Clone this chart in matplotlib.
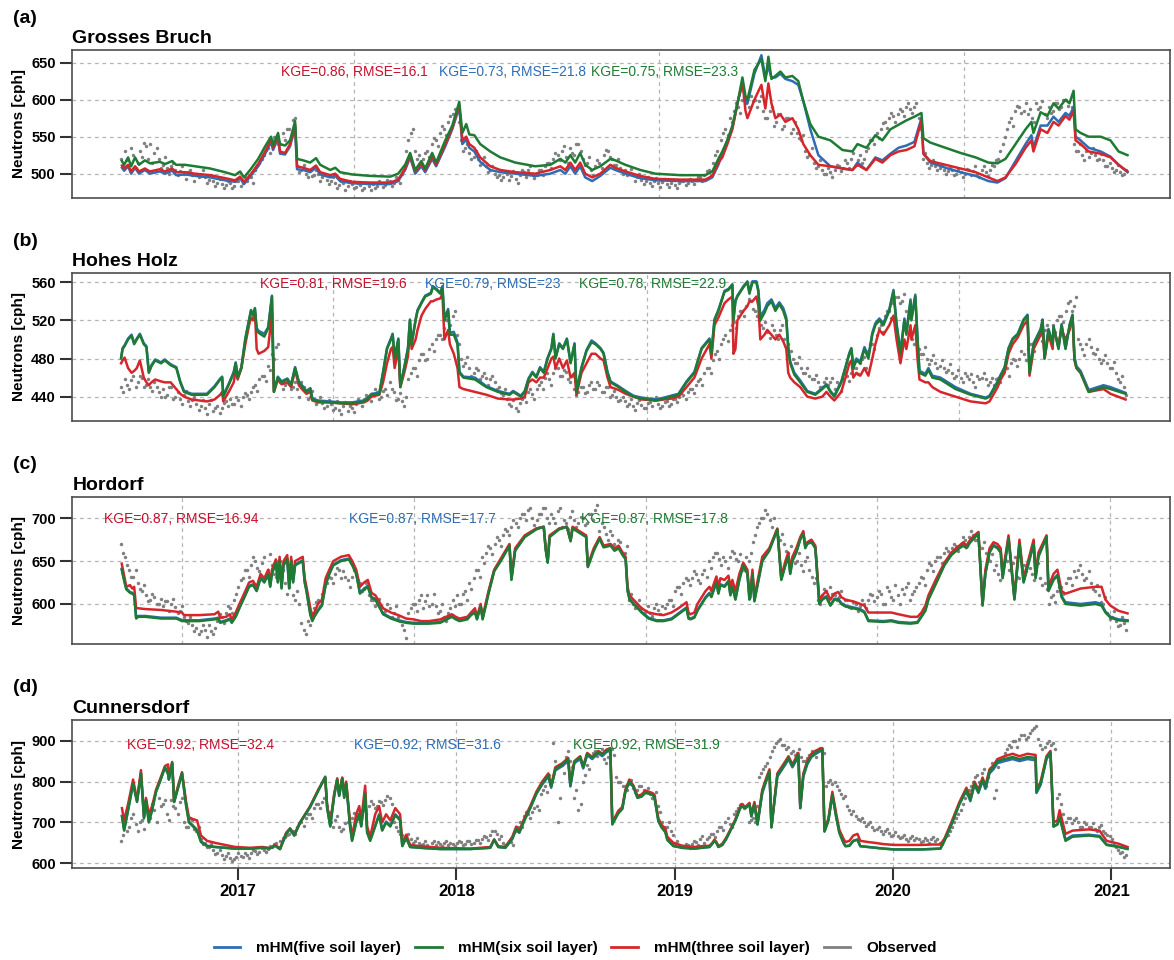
import matplotlib
matplotlib.use('Agg')
import matplotlib.pyplot as plt
from matplotlib.lines import Line2D
import numpy as np

plt.rcParams.update({
    'font.family': ['Liberation Sans', 'DejaVu Sans'],
    'font.size': 10,
    'axes.linewidth': 1.2,
    'axes.edgecolor': '#4d4d4d',
})

COLORS = {
    'five': '#2E6DB4',
    'six': '#1E7B34',
    'three': '#D7262B',
    'obs': '#808080',
}
TEXT_COLORS = {'three': '#C8102E', 'five': '#2E6DB4', 'six': '#1E7B34'}
SERIES_LABELS = ['mHM(five soil layer)', 'mHM(six soil layer)',
                 'mHM(three soil layer)', 'Observed']

# observed: two samples per week (start / middle of week), first one mid June 2016
OBS_START = 2016.463
OBS_STEP = 1 / 52

# model rows: (decimal year, five layer, six layer, three layer)
GB_MODEL = [
    (2016.468, 508, 517, 511), (2016.478, 504, 512, 507), (2016.496, 510, 522, 512),
    (2016.510, 500, 510, 503), (2016.528, 508, 522, 510), (2016.546, 500, 512, 503),
    (2016.573, 505, 518, 507), (2016.596, 500, 514, 503), (2016.642, 503, 516, 506),
    (2016.665, 500, 513, 503), (2016.698, 504, 517, 507), (2016.716, 498, 512, 502),
    (2016.757, 499, 512, 502), (2016.803, 497, 510, 500), (2016.872, 495, 507, 498),
    (2016.940, 491, 502, 494), (2016.986, 489, 498, 491), (2017.009, 494, 503, 496),
    (2017.027, 486, 495, 489), (2017.055, 496, 505, 498), (2017.092, 510, 520, 513),
    (2017.124, 527, 537, 530), (2017.151, 543, 550, 546), (2017.160, 532, 538, 535),
    (2017.183, 548, 555, 550), (2017.192, 527, 540, 530), (2017.215, 526, 538, 528),
    (2017.238, 537, 545, 540), (2017.261, 563, 571, 566), (2017.270, 506, 520, 510),
    (2017.298, 505, 518, 508), (2017.330, 502, 515, 505), (2017.357, 508, 521, 511),
    (2017.376, 499, 512, 502), (2017.422, 495, 505, 498), (2017.445, 497, 508, 500),
    (2017.467, 490, 502, 493), (2017.522, 487, 499, 489), (2017.605, 486, 497, 488),
    (2017.697, 486, 496, 488), (2017.733, 490, 500, 492), (2017.765, 505, 512, 507),
    (2017.788, 522, 528, 525), (2017.811, 500, 505, 503), (2017.839, 510, 517, 513),
    (2017.857, 502, 507, 505), (2017.889, 520, 528, 523), (2017.907, 510, 515, 512),
    (2017.949, 537, 545, 540), (2017.981, 560, 565, 562), (2018.013, 590, 597, 593),
    (2018.027, 540, 555, 545), (2018.045, 546, 567, 550), (2018.059, 535, 553, 540),
    (2018.082, 530, 552, 535), (2018.109, 516, 540, 522), (2018.155, 505, 530, 510),
    (2018.201, 502, 522, 505), (2018.270, 500, 515, 502), (2018.361, 497, 510, 500),
    (2018.430, 500, 512, 505), (2018.476, 505, 520, 510), (2018.499, 500, 515, 505),
    (2018.522, 510, 525, 515), (2018.544, 500, 515, 505), (2018.567, 510, 528, 515),
    (2018.590, 495, 512, 500), (2018.622, 490, 505, 495), (2018.659, 497, 510, 500),
    (2018.705, 508, 520, 512), (2018.728, 505, 518, 508), (2018.774, 500, 512, 503),
    (2018.842, 494, 505, 497), (2018.911, 491, 500, 493), (2019.026, 490, 498, 492),
    (2019.140, 490, 498, 492), (2019.172, 495, 503, 497), (2019.200, 512, 520, 515),
    (2019.218, 528, 530, 522), (2019.241, 545, 545, 540), (2019.264, 562, 565, 560),
    (2019.291, 600, 600, 600), (2019.310, 620, 630, 625), (2019.324, 600, 605, 585),
    (2019.333, 595, 600, 575), (2019.365, 635, 640, 600), (2019.397, 660, 655, 620),
    (2019.415, 630, 625, 588), (2019.429, 645, 658, 622), (2019.443, 630, 628, 595),
    (2019.461, 630, 632, 575), (2019.484, 635, 638, 580), (2019.507, 628, 630, 570),
    (2019.539, 625, 632, 575), (2019.566, 620, 625, 560), (2019.589, 598, 598, 540),
    (2019.621, 560, 567, 525), (2019.658, 525, 550, 512), (2019.713, 510, 545, 510),
    (2019.768, 507, 532, 507), (2019.814, 505, 530, 505), (2019.837, 515, 540, 512),
    (2019.878, 505, 535, 505), (2019.919, 522, 552, 520), (2019.951, 518, 545, 515),
    (2019.988, 527, 560, 525), (2020.025, 535, 566, 530), (2020.061, 538, 572, 532),
    (2020.098, 543, 577, 537), (2020.130, 575, 582, 572), (2020.139, 527, 548, 527),
    (2020.171, 515, 542, 517), (2020.240, 508, 535, 512), (2020.309, 502, 528, 507),
    (2020.378, 497, 522, 502), (2020.437, 490, 515, 495), (2020.478, 488, 514, 490),
    (2020.515, 494, 520, 495), (2020.561, 517, 540, 513), (2020.607, 540, 560, 535),
    (2020.634, 552, 570, 545), (2020.643, 535, 555, 530), (2020.676, 565, 583, 560),
    (2020.707, 565, 578, 555), (2020.735, 577, 595, 570), (2020.758, 570, 588, 565),
    (2020.790, 582, 600, 578), (2020.808, 578, 595, 573), (2020.827, 590, 612, 585),
    (2020.836, 550, 560, 545), (2020.859, 545, 555, 540), (2020.896, 535, 550, 530),
    (2020.951, 530, 550, 527), (2020.996, 523, 545, 522), (2021.033, 512, 530, 512),
    (2021.074, 502, 525, 503),
]
GB_OBS = [
    520, 530, 512, 525, 515, 522, 538, 540, 528, 520,
    512, 508, 510, 505, 503, 500, 502, 498, 500, 497,
    495, 492, 490, 488, 486, 485, 487, 484, 490, 488,
    490, 495, 505, 515, 525, 535, 545, 550, 540, 545,
    560, 572, 510, 505, 500, 505, 498, 500, 495, 492,
    490, 488, 485, 487, 484, 486, 482, 485, 480, 484,
    486, 483, 488, 485, 490, 488, 492, 500, 530, 555,
    530, 525, 520, 530, 540, 545, 555, 560, 570, 580,
    585, 545, 535, 528, 522, 520, 515, 510, 505, 500,
    498, 495, 500, 497, 493, 498, 502, 505, 500, 498,
    505, 510, 515, 520, 525, 530, 522, 535, 525, 540,
    520, 515, 505, 510, 515, 525, 530, 520, 512, 508,
    505, 500, 498, 495, 492, 490, 488, 490, 487, 489,
    486, 488, 485, 487, 490, 488, 490, 492, 495, 498,
    505, 515, 530, 545, 560, 575, 585, 590, 600, 595,
    605, 600, 598, 585, 575, 590, 570, 580, 565, 575,
    560, 555, 545, 530, 525, 515, 510, 505, 500, 502,
    505, 510, 508, 515, 520, 512, 525, 520, 535, 545,
    555, 560, 570, 575, 578, 580, 585, 590, 588, 590,
    575, 520, 515, 512, 510, 508, 505, 503, 505, 500,
    502, 500, 505, 503, 500, 505, 502, 505, 510, 520,
    540, 560, 575, 585, 590, 585, 580, 575, 595, 590,
    580, 590, 585, 595, 590, 600, 580, 540, 530, 525,
    530, 528, 525, 520, 518, 510, 508, 505, 502, 500,
]
GB_OBS_MID = [
    510, 518, 535, 508, 530, 542, 520, 515, 535, 508,
    522, 500, 515, 498, 510, 493, 505, 490, 495, 505,
    488, 498, 484, 493, 480, 490, 481, 490, 484, 495,
    498, 488, 512, 520, 532, 528, 550, 540, 555, 560,
    548, 575, 502, 512, 495, 497, 505, 490, 500, 486,
    495, 480, 490, 478, 490, 480, 488, 478, 488, 478,
    480, 490, 482, 492, 484, 495, 488, 510, 545, 560,
    520, 515, 528, 522, 548, 538, 565, 552, 578, 588,
    570, 530, 540, 520, 530, 512, 522, 502, 510, 495,
    492, 502, 492, 503, 488, 505, 495, 510, 494, 505,
    498, 515, 508, 528, 518, 538, 515, 528, 540, 530,
    512, 522, 498, 518, 508, 532, 522, 512, 520, 500,
    498, 507, 490, 500, 486, 495, 484, 494, 482, 493,
    482, 492, 480, 490, 485, 493, 486, 496, 490, 503,
    498, 525, 522, 555, 552, 570, 595, 582, 605, 590,
    598, 590, 605, 575, 585, 565, 580, 560, 575, 555,
    570, 548, 552, 522, 535, 508, 518, 500, 508, 495,
    512, 503, 518, 508, 528, 518, 515, 530, 545, 540,
    548, 568, 562, 582, 570, 588, 578, 595, 582, 596,
    560, 528, 508, 518, 505, 512, 500, 508, 498, 507,
    496, 507, 498, 510, 495, 510, 497, 512, 518, 530,
    550, 570, 565, 592, 582, 595, 588, 570, 588, 598,
    575, 582, 595, 588, 600, 592, 590, 530, 540, 518,
    522, 535, 518, 527, 510, 515, 502, 512, 498, 505,
]

HH_MODEL = [
    (2016.464, 481, 480, 475), (2016.471, 491, 490, 478), (2016.480, 494, 493, 481),
    (2016.496, 501, 500, 470), (2016.512, 505, 504, 465), (2016.524, 496, 495, 467),
    (2016.536, 501, 500, 470), (2016.550, 506, 505, 478), (2016.568, 496, 495, 460),
    (2016.580, 493, 492, 455), (2016.591, 466, 465, 452), (2016.603, 473, 472, 455),
    (2016.620, 479, 478, 458), (2016.647, 476, 475, 456), (2016.664, 479, 478, 455),
    (2016.691, 474, 473, 455), (2016.717, 471, 470, 448), (2016.735, 456, 455, 443),
    (2016.752, 446, 445, 440), (2016.787, 443, 442, 437), (2016.857, 443, 442, 435),
    (2016.892, 451, 450, 437), (2016.918, 459, 458, 442), (2016.927, 461, 460, 445),
    (2016.932, 441, 440, 435), (2016.962, 456, 455, 447), (2016.980, 466, 465, 455),
    (2016.989, 476, 475, 468), (2016.998, 461, 460, 458), (2017.015, 471, 470, 470),
    (2017.033, 501, 500, 495), (2017.050, 521, 520, 515), (2017.059, 531, 530, 523),
    (2017.068, 526, 525, 520), (2017.077, 533, 532, 528), (2017.085, 512, 510, 490),
    (2017.094, 509, 507, 485), (2017.120, 506, 503, 488), (2017.138, 513, 512, 492),
    (2017.155, 546, 545, 528), (2017.164, 446, 445, 445), (2017.182, 461, 460, 458),
    (2017.199, 456, 455, 453), (2017.225, 459, 458, 455), (2017.243, 453, 452, 450),
    (2017.261, 471, 470, 468), (2017.278, 456, 455, 452), (2017.296, 451, 450, 447),
    (2017.313, 446, 445, 443), (2017.331, 449, 448, 445), (2017.340, 438, 437, 436),
    (2017.366, 436, 435, 434), (2017.418, 435, 434, 434), (2017.471, 434, 433, 433),
    (2017.523, 434, 433, 432), (2017.577, 436, 435, 434), (2017.594, 439, 438, 436),
    (2017.611, 443, 442, 440), (2017.647, 444, 443, 442), (2017.664, 466, 465, 455),
    (2017.682, 491, 490, 475), (2017.700, 501, 500, 490), (2017.708, 506, 505, 492),
    (2017.717, 481, 480, 470), (2017.734, 501, 500, 490), (2017.743, 451, 450, 450),
    (2017.761, 471, 470, 465), (2017.778, 491, 490, 482), (2017.787, 521, 520, 510),
    (2017.795, 496, 495, 490), (2017.813, 521, 520, 500), (2017.822, 531, 530, 510),
    (2017.840, 539, 538, 525), (2017.857, 546, 545, 532), (2017.883, 549, 548, 540),
    (2017.892, 556, 555, 540), (2017.909, 553, 552, 542), (2017.926, 549, 548, 543),
    (2017.936, 556, 555, 548), (2017.945, 522, 520, 500), (2017.962, 532, 530, 510),
    (2017.970, 507, 505, 495), (2017.988, 508, 505, 485), (2018.005, 497, 495, 470),
    (2018.014, 466, 465, 450), (2018.032, 461, 460, 448), (2018.085, 460, 458, 445),
    (2018.137, 451, 450, 442), (2018.190, 446, 445, 438), (2018.243, 443, 442, 437),
    (2018.260, 446, 445, 437), (2018.295, 441, 440, 438), (2018.313, 446, 445, 440),
    (2018.330, 459, 458, 455), (2018.348, 466, 465, 458), (2018.366, 461, 460, 455),
    (2018.383, 471, 470, 460), (2018.400, 466, 465, 460), (2018.418, 481, 480, 470),
    (2018.435, 491, 490, 480), (2018.444, 506, 505, 482), (2018.454, 481, 480, 470),
    (2018.471, 496, 495, 480), (2018.488, 491, 490, 470), (2018.506, 501, 500, 478),
    (2018.523, 476, 475, 460), (2018.541, 496, 495, 465), (2018.550, 446, 445, 442),
    (2018.573, 471, 470, 465), (2018.596, 489, 488, 475), (2018.619, 499, 497, 485),
    (2018.637, 496, 495, 485), (2018.660, 491, 490, 480), (2018.674, 486, 485, 478),
    (2018.692, 466, 465, 460), (2018.706, 456, 455, 450), (2018.743, 451, 450, 447),
    (2018.775, 446, 445, 443), (2018.811, 441, 440, 440), (2018.848, 439, 438, 437),
    (2018.917, 437, 436, 436), (2018.985, 441, 440, 438), (2019.017, 443, 442, 440),
    (2019.054, 456, 455, 450), (2019.090, 466, 465, 460), (2019.123, 491, 490, 480),
    (2019.159, 501, 500, 495), (2019.168, 486, 485, 480), (2019.182, 521, 520, 515),
    (2019.200, 531, 530, 523), (2019.228, 551, 550, 538), (2019.246, 553, 552, 542),
    (2019.264, 558, 557, 545), (2019.269, 522, 520, 485), (2019.278, 541, 540, 490),
    (2019.287, 546, 545, 520), (2019.315, 556, 555, 530), (2019.333, 561, 560, 535),
    (2019.342, 550, 548, 540), (2019.356, 561, 560, 540), (2019.374, 561, 560, 545),
    (2019.383, 552, 550, 535), (2019.392, 524, 520, 500), (2019.411, 531, 528, 505),
    (2019.424, 538, 535, 510), (2019.443, 542, 540, 505), (2019.461, 533, 530, 500),
    (2019.479, 539, 537, 505), (2019.497, 533, 530, 498), (2019.511, 523, 520, 490),
    (2019.520, 492, 490, 465), (2019.529, 477, 475, 460), (2019.548, 465, 463, 455),
    (2019.575, 457, 455, 450), (2019.607, 446, 445, 440), (2019.644, 443, 442, 438),
    (2019.676, 449, 448, 440), (2019.695, 453, 452, 445), (2019.713, 446, 445, 440),
    (2019.731, 441, 440, 436), (2019.763, 456, 455, 445), (2019.782, 471, 470, 460),
    (2019.800, 486, 485, 475), (2019.809, 491, 490, 478), (2019.818, 472, 470, 460),
    (2019.832, 480, 478, 465), (2019.850, 477, 475, 462), (2019.869, 492, 490, 470),
    (2019.887, 482, 480, 462), (2019.905, 507, 505, 480), (2019.919, 517, 515, 495),
    (2019.937, 522, 520, 510), (2019.956, 517, 515, 505), (2019.983, 532, 530, 515),
    (2020.002, 552, 550, 525), (2020.016, 517, 515, 500), (2020.034, 487, 485, 475),
    (2020.052, 522, 520, 500), (2020.061, 507, 505, 490), (2020.080, 542, 540, 515),
    (2020.084, 522, 520, 500), (2020.102, 547, 545, 515), (2020.112, 502, 500, 480),
    (2020.121, 467, 465, 458), (2020.148, 464, 462, 455), (2020.162, 470, 468, 455),
    (2020.180, 462, 460, 450), (2020.217, 460, 458, 445), (2020.286, 450, 448, 440),
    (2020.355, 443, 442, 435), (2020.424, 439, 438, 433), (2020.442, 441, 440, 435),
    (2020.479, 456, 455, 450), (2020.493, 463, 462, 458), (2020.511, 471, 470, 465),
    (2020.529, 491, 490, 485), (2020.548, 501, 500, 495), (2020.571, 506, 505, 502),
    (2020.598, 521, 520, 515), (2020.616, 526, 525, 520), (2020.625, 466, 465, 462),
    (2020.644, 496, 495, 490), (2020.676, 511, 510, 505), (2020.685, 521, 520, 515),
    (2020.694, 481, 480, 480), (2020.712, 511, 510, 505), (2020.731, 496, 495, 490),
    (2020.735, 514, 513, 510), (2020.758, 491, 490, 495), (2020.772, 516, 515, 510),
    (2020.790, 491, 490, 500), (2020.809, 516, 515, 510), (2020.822, 526, 525, 525),
    (2020.831, 482, 480, 478), (2020.840, 472, 470, 470), (2020.859, 467, 465, 465),
    (2020.896, 447, 445, 445), (2020.964, 452, 450, 448), (2020.996, 450, 448, 443),
    (2021.065, 444, 443, 437),
]
HH_OBS = [
    450, 458, 448, 462, 455, 460, 452, 450, 455, 445,
    448, 442, 450, 440, 438, 442, 435, 437, 432, 430,
    428, 432, 425, 430, 428, 435, 438, 432, 436, 440,
    442, 445, 452, 458, 462, 472, 485, 492, 455, 452,
    455, 450, 448, 455, 445, 440, 438, 435, 433, 430,
    432, 428, 426, 430, 425, 428, 432, 435, 438, 440,
    442, 445, 440, 448, 455, 445, 438, 435, 440, 465,
    470, 478, 485, 480, 495, 500, 505, 512, 520, 525,
    505, 480, 475, 470, 465, 468, 462, 460, 458, 455,
    450, 442, 438, 430, 428, 433, 440, 445, 443, 448,
    455, 460, 458, 465, 470, 462, 466, 455, 448, 445,
    450, 445, 455, 448, 452, 445, 450, 442, 440, 437,
    435, 432, 430, 433, 431, 428, 434, 436, 432, 430,
    435, 432, 438, 440, 442, 445, 448, 452, 458, 465,
    470, 478, 488, 495, 505, 510, 518, 525, 530, 535,
    540, 530, 520, 512, 508, 515, 505, 510, 500, 495,
    480, 475, 470, 465, 462, 458, 455, 450, 460, 455,
    448, 452, 458, 462, 465, 470, 475, 482, 488, 495,
    505, 515, 525, 530, 538, 545, 540, 530, 510, 495,
    490, 485, 480, 478, 475, 472, 470, 468, 465, 462,
    460, 465, 458, 455, 462, 460, 458, 455, 452, 460,
    465, 470, 475, 478, 480, 485, 490, 495, 500, 505,
    510, 505, 515, 520, 525, 530, 540, 535, 500, 490,
    495, 492, 485, 480, 478, 475, 470, 465, 455, 450,
]
HH_OBS_MID = [
    445, 452, 457, 450, 462, 450, 458, 446, 450, 440,
    440, 450, 438, 445, 432, 446, 430, 440, 426, 436,
    422, 436, 428, 423, 433, 430, 432, 440, 430, 444,
    438, 450, 446, 462, 456, 468, 480, 495, 448, 458,
    448, 455, 440, 450, 438, 446, 432, 440, 428, 436,
    426, 435, 422, 434, 430, 424, 438, 430, 442, 435,
    448, 438, 446, 442, 448, 436, 444, 430, 458, 470,
    462, 485, 478, 490, 488, 505, 500, 520, 515, 530,
    495, 472, 482, 462, 470, 458, 465, 452, 462, 448,
    444, 448, 432, 436, 425, 438, 434, 448, 438, 452,
    448, 465, 452, 470, 462, 468, 458, 462, 442, 450,
    444, 452, 448, 455, 445, 450, 440, 446, 435, 440,
    430, 438, 426, 436, 428, 433, 430, 440, 428, 434,
    430, 438, 434, 444, 438, 448, 444, 456, 452, 470,
    465, 485, 480, 500, 498, 515, 512, 530, 525, 542,
    532, 525, 515, 518, 502, 510, 500, 515, 492, 488,
    475, 482, 465, 470, 458, 463, 450, 455, 452, 460,
    455, 446, 465, 456, 470, 464, 480, 470, 495, 490,
    512, 508, 530, 522, 545, 538, 548, 522, 500, 502,
    485, 492, 474, 484, 470, 478, 466, 474, 460, 468,
    455, 462, 464, 450, 458, 465, 452, 460, 458, 455,
    470, 462, 480, 472, 488, 478, 495, 488, 505, 498,
    515, 500, 508, 525, 518, 538, 530, 545, 495, 484,
    500, 486, 490, 475, 484, 470, 476, 458, 462, 442,
]

HD_MODEL = [
    (2016.467, 641, 640, 647), (2016.480, 626, 625, 630), (2016.488, 618, 617, 620),
    (2016.505, 614, 613, 622), (2016.515, 613, 612, 618), (2016.524, 611, 610, 620),
    (2016.533, 584, 583, 595), (2016.542, 586, 585, 595), (2016.576, 586, 585, 594),
    (2016.647, 584, 583, 593), (2016.717, 584, 583, 591), (2016.743, 581, 580, 590),
    (2016.752, 581, 580, 587), (2016.822, 581, 580, 587), (2016.892, 583, 582, 588),
    (2016.909, 584, 583, 591), (2016.918, 579, 578, 584), (2016.945, 581, 580, 585),
    (2016.962, 583, 582, 588), (2016.971, 579, 578, 582), (2016.989, 586, 585, 590),
    (2017.006, 596, 595, 600), (2017.033, 611, 610, 615), (2017.050, 621, 620, 625),
    (2017.068, 623, 622, 627), (2017.085, 616, 615, 620), (2017.103, 631, 630, 635),
    (2017.120, 626, 625, 630), (2017.138, 636, 635, 640), (2017.147, 621, 620, 625),
    (2017.155, 636, 635, 640), (2017.173, 649, 648, 652), (2017.182, 626, 625, 630),
    (2017.190, 651, 650, 655), (2017.199, 619, 618, 625), (2017.208, 646, 645, 650),
    (2017.225, 653, 652, 657), (2017.234, 619, 618, 625), (2017.243, 651, 650, 655),
    (2017.252, 626, 625, 630), (2017.261, 646, 645, 650), (2017.296, 651, 650, 655),
    (2017.305, 626, 625, 630), (2017.313, 616, 615, 620), (2017.331, 588, 587, 595),
    (2017.340, 581, 580, 585), (2017.349, 586, 585, 590), (2017.366, 593, 592, 600),
    (2017.384, 599, 598, 605), (2017.401, 623, 622, 630), (2017.418, 636, 635, 640),
    (2017.436, 646, 645, 650), (2017.471, 651, 650, 655), (2017.507, 653, 652, 657),
    (2017.523, 646, 645, 650), (2017.541, 636, 635, 640), (2017.558, 613, 612, 620),
    (2017.577, 618, 617, 625), (2017.594, 621, 620, 628), (2017.611, 608, 607, 613),
    (2017.629, 606, 605, 610), (2017.664, 589, 588, 595), (2017.700, 584, 583, 590),
    (2017.734, 581, 580, 587), (2017.769, 579, 578, 583), (2017.804, 578, 577, 582),
    (2017.839, 578, 577, 580), (2017.874, 578, 577, 580), (2017.926, 579, 578, 582),
    (2017.979, 586, 585, 588), (2017.997, 583, 582, 585), (2018.014, 581, 580, 583),
    (2018.050, 583, 582, 585), (2018.067, 588, 587, 590), (2018.085, 591, 590, 595),
    (2018.094, 583, 582, 585), (2018.111, 598, 597, 600), (2018.120, 583, 582, 585),
    (2018.147, 613, 612, 615), (2018.173, 639, 638, 640), (2018.208, 653, 652, 655),
    (2018.243, 669, 668, 670), (2018.252, 629, 628, 630), (2018.269, 663, 662, 665),
    (2018.313, 679, 678, 680), (2018.366, 688, 687, 688), (2018.400, 690, 690, 690),
    (2018.409, 664, 663, 665), (2018.418, 649, 648, 650), (2018.427, 679, 678, 680),
    (2018.471, 688, 687, 688), (2018.506, 690, 690, 690), (2018.523, 674, 673, 675),
    (2018.532, 689, 688, 690), (2018.594, 679, 678, 680), (2018.602, 644, 643, 645),
    (2018.629, 663, 662, 665), (2018.656, 677, 676, 678), (2018.674, 667, 666, 668),
    (2018.706, 669, 668, 670), (2018.724, 663, 662, 665), (2018.743, 666, 665, 668),
    (2018.761, 658, 657, 660), (2018.775, 653, 652, 655), (2018.784, 616, 615, 620),
    (2018.793, 606, 605, 610), (2018.811, 601, 600, 605), (2018.830, 596, 595, 600),
    (2018.848, 591, 590, 595), (2018.880, 584, 583, 590), (2018.917, 581, 580, 588),
    (2018.949, 581, 580, 587), (2018.985, 583, 582, 590), (2019.017, 589, 588, 595),
    (2019.054, 596, 595, 602), (2019.063, 584, 583, 590), (2019.072, 583, 582, 588),
    (2019.090, 585, 584, 590), (2019.104, 593, 592, 600), (2019.141, 608, 607, 615),
    (2019.159, 613, 612, 620), (2019.168, 609, 608, 615), (2019.177, 616, 615, 622),
    (2019.191, 626, 625, 632), (2019.200, 613, 612, 620), (2019.209, 623, 622, 630),
    (2019.228, 621, 620, 628), (2019.246, 627, 626, 633), (2019.255, 611, 610, 620),
    (2019.264, 621, 620, 628), (2019.278, 606, 605, 615), (2019.296, 629, 628, 635),
    (2019.314, 646, 645, 648), (2019.333, 636, 635, 640), (2019.342, 606, 605, 610),
    (2019.346, 608, 607, 612), (2019.356, 636, 635, 640), (2019.365, 604, 603, 608),
    (2019.401, 651, 650, 655), (2019.433, 663, 662, 665), (2019.470, 687, 687, 688),
    (2019.488, 629, 628, 632), (2019.507, 646, 645, 650), (2019.520, 656, 655, 660),
    (2019.529, 636, 635, 640), (2019.539, 651, 650, 655), (2019.557, 661, 660, 665),
    (2019.575, 676, 675, 678), (2019.589, 683, 682, 685), (2019.598, 666, 665, 668),
    (2019.607, 671, 670, 672), (2019.626, 673, 672, 675), (2019.644, 666, 665, 668),
    (2019.662, 601, 600, 605), (2019.676, 606, 605, 610), (2019.694, 609, 608, 615),
    (2019.713, 599, 598, 605), (2019.731, 606, 605, 612), (2019.749, 606, 605, 614),
    (2019.763, 601, 600, 608), (2019.782, 598, 597, 605), (2019.818, 596, 595, 603),
    (2019.850, 594, 593, 600), (2019.869, 591, 590, 598), (2019.887, 581, 580, 590),
    (2019.956, 580, 579, 590), (2019.992, 581, 580, 590), (2020.025, 579, 578, 588),
    (2020.080, 578, 577, 585), (2020.112, 579, 578, 585), (2020.130, 586, 585, 590),
    (2020.148, 593, 592, 598), (2020.162, 606, 605, 610), (2020.199, 626, 625, 630),
    (2020.235, 646, 645, 648), (2020.267, 658, 657, 660), (2020.304, 666, 665, 668),
    (2020.322, 669, 668, 672), (2020.336, 666, 665, 668), (2020.354, 673, 672, 675),
    (2020.373, 678, 677, 680), (2020.391, 683, 682, 684), (2020.410, 599, 598, 601),
    (2020.423, 636, 635, 640), (2020.442, 661, 660, 665), (2020.460, 669, 668, 672),
    (2020.478, 666, 665, 670), (2020.493, 661, 660, 665), (2020.502, 631, 630, 635),
    (2020.529, 677, 676, 680), (2020.556, 606, 605, 608), (2020.579, 671, 670, 675),
    (2020.598, 626, 625, 630), (2020.634, 661, 660, 665), (2020.644, 671, 670, 675),
    (2020.653, 631, 630, 635), (2020.666, 656, 655, 660), (2020.703, 679, 678, 680),
    (2020.712, 616, 615, 620), (2020.735, 629, 628, 635), (2020.753, 634, 633, 640),
    (2020.772, 609, 608, 615), (2020.790, 602, 600, 612), (2020.859, 600, 598, 618),
    (2020.927, 602, 600, 620), (2020.955, 600, 598, 620), (2020.973, 591, 590, 605),
    (2020.996, 585, 584, 598), (2021.033, 582, 581, 592), (2021.074, 581, 580, 589),
]
HD_OBS = [
    670, 655, 640, 632, 625, 615, 610, 605, 608, 600,
    598, 603, 600, 596, 592, 585, 578, 575, 572, 568,
    570, 575, 565, 580, 585, 590, 595, 605, 620, 630,
    640, 645, 650, 638, 655, 640, 645, 632, 650, 625,
    620, 610, 615, 578, 565, 575, 595, 605, 612, 625,
    630, 635, 640, 638, 628, 632, 635, 625, 618, 610,
    605, 600, 598, 592, 595, 590, 585, 575, 560, 595,
    600, 605, 595, 610, 600, 598, 592, 585, 590, 605,
    610, 600, 615, 625, 630, 640, 655, 660, 665, 670,
    675, 680, 685, 690, 695, 700, 705, 710, 700, 698,
    705, 712, 695, 700, 708, 690, 695, 702, 698, 695,
    700, 695, 705, 710, 685, 690, 675, 680, 665, 672,
    660, 605, 600, 598, 595, 592, 590, 595, 593, 598,
    600, 605, 615, 620, 625, 628, 630, 635, 625, 640,
    650, 655, 660, 645, 650, 655, 660, 650, 645, 655,
    660, 680, 695, 700, 705, 690, 685, 675, 670, 660,
    655, 650, 645, 650, 640, 625, 605, 610, 615, 620,
    610, 608, 600, 605, 595, 600, 598, 600, 605, 610,
    608, 612, 600, 615, 605, 610, 618, 620, 605, 615,
    625, 630, 640, 645, 650, 655, 660, 662, 665, 668,
    670, 675, 678, 680, 675, 665, 660, 650, 640, 635,
    645, 650, 640, 655, 630, 645, 650, 635, 640, 630,
    625, 600, 610, 615, 620, 625, 630, 638, 640, 635,
    630, 625, 615, 610, 600, 590, 585, 580, 575, 578,
]
HD_OBS_MID = [
    660, 645, 632, 640, 618, 622, 603, 612, 600, 606,
    604, 592, 606, 590, 598, 580, 585, 568, 565, 575,
    562, 568, 572, 588, 578, 598, 590, 612, 628, 640,
    632, 655, 642, 648, 630, 658, 635, 650, 640, 612,
    630, 605, 600, 570, 580, 590, 602, 598, 620, 632,
    625, 642, 630, 632, 620, 640, 628, 615, 625, 605,
    598, 606, 590, 600, 585, 598, 580, 570, 590, 600,
    592, 610, 603, 598, 612, 590, 600, 580, 595, 598,
    600, 612, 605, 618, 640, 632, 648, 668, 658, 678,
    668, 688, 680, 698, 690, 705, 698, 712, 692, 705,
    712, 700, 705, 695, 712, 698, 688, 708, 690, 702,
    692, 705, 698, 715, 695, 682, 685, 670, 675, 660,
    668, 612, 595, 605, 590, 598, 586, 600, 588, 595,
    605, 598, 620, 612, 630, 622, 638, 628, 635, 632,
    642, 660, 652, 655, 642, 662, 652, 658, 640, 650,
    672, 690, 700, 710, 698, 700, 678, 682, 662, 668,
    648, 660, 638, 655, 632, 630, 600, 618, 605, 612,
    605, 615, 605, 596, 602, 592, 605, 595, 612, 604,
    615, 600, 620, 608, 622, 600, 612, 625, 612, 620,
    632, 622, 648, 638, 655, 648, 665, 658, 670, 662,
    678, 668, 685, 675, 668, 672, 652, 658, 645, 628,
    652, 640, 648, 632, 650, 638, 642, 628, 648, 622,
    618, 608, 602, 620, 612, 630, 622, 632, 645, 628,
    638, 618, 622, 602, 608, 582, 592, 574, 585, 570,
]

CD_MODEL = [
    (2016.468, 716, 715, 735), (2016.478, 682, 680, 705), (2016.496, 730, 730, 745),
    (2016.519, 795, 795, 805), (2016.537, 752, 750, 755), (2016.555, 820, 820, 828),
    (2016.569, 712, 710, 715), (2016.578, 755, 755, 760), (2016.591, 702, 700, 720),
    (2016.606, 730, 730, 740), (2016.624, 775, 775, 780), (2016.642, 800, 800, 805),
    (2016.665, 835, 835, 838), (2016.679, 818, 820, 842), (2016.683, 805, 805, 812),
    (2016.698, 845, 845, 848), (2016.707, 750, 750, 752), (2016.725, 785, 785, 790),
    (2016.743, 820, 820, 823), (2016.762, 742, 740, 750), (2016.775, 702, 700, 712),
    (2016.794, 692, 690, 708), (2016.812, 682, 680, 705), (2016.830, 654, 652, 668),
    (2016.858, 643, 642, 655), (2016.895, 640, 640, 650), (2016.940, 638, 638, 645),
    (2016.986, 636, 636, 640), (2017.055, 636, 636, 638), (2017.110, 638, 638, 640),
    (2017.147, 637, 637, 637), (2017.170, 643, 643, 645), (2017.192, 635, 635, 635),
    (2017.220, 672, 672, 675), (2017.238, 685, 685, 685), (2017.257, 668, 668, 670),
    (2017.284, 700, 700, 700), (2017.330, 738, 738, 740), (2017.367, 778, 778, 780),
    (2017.399, 810, 812, 810), (2017.408, 735, 735, 740), (2017.422, 692, 690, 700),
    (2017.440, 765, 765, 770), (2017.454, 805, 805, 808), (2017.463, 765, 765, 770),
    (2017.477, 808, 808, 810), (2017.486, 762, 760, 770), (2017.495, 795, 795, 800),
    (2017.513, 690, 690, 700), (2017.522, 657, 655, 665), (2017.541, 702, 700, 720),
    (2017.555, 722, 720, 740), (2017.564, 692, 690, 705), (2017.582, 772, 770, 790),
    (2017.591, 677, 675, 690), (2017.605, 657, 655, 665), (2017.628, 692, 690, 720),
    (2017.646, 720, 718, 740), (2017.660, 682, 680, 700), (2017.678, 702, 700, 720),
    (2017.697, 692, 690, 705), (2017.720, 720, 718, 735), (2017.742, 707, 705, 720),
    (2017.752, 643, 642, 650), (2017.770, 663, 662, 670), (2017.788, 640, 640, 645),
    (2017.834, 638, 638, 642), (2017.926, 635, 635, 638), (2018.064, 635, 635, 636),
    (2018.155, 638, 638, 640), (2018.173, 658, 658, 658), (2018.192, 640, 640, 642),
    (2018.224, 638, 638, 640), (2018.256, 660, 660, 665), (2018.274, 685, 685, 690),
    (2018.288, 675, 675, 680), (2018.311, 705, 705, 710), (2018.338, 735, 735, 740),
    (2018.366, 770, 770, 775), (2018.393, 793, 795, 800), (2018.421, 812, 815, 820),
    (2018.434, 785, 788, 790), (2018.453, 827, 830, 835), (2018.485, 838, 842, 845),
    (2018.512, 850, 855, 858), (2018.522, 788, 790, 795), (2018.540, 845, 848, 850),
    (2018.567, 855, 860, 862), (2018.581, 832, 835, 838), (2018.599, 865, 868, 870),
    (2018.622, 855, 858, 860), (2018.650, 870, 872, 875), (2018.668, 862, 865, 868),
    (2018.687, 872, 875, 878), (2018.705, 876, 880, 882), (2018.714, 697, 695, 700),
    (2018.741, 724, 722, 728), (2018.760, 735, 733, 738), (2018.774, 777, 775, 780),
    (2018.792, 800, 800, 805), (2018.811, 787, 787, 790), (2018.829, 762, 760, 765),
    (2018.847, 763, 763, 768), (2018.866, 773, 773, 778), (2018.898, 768, 768, 772),
    (2018.907, 762, 762, 768), (2018.925, 705, 703, 710), (2018.939, 690, 688, 695),
    (2018.957, 678, 676, 685), (2018.966, 659, 657, 665), (2018.994, 643, 642, 650),
    (2019.035, 638, 638, 643), (2019.090, 636, 636, 640), (2019.122, 638, 638, 642),
    (2019.159, 640, 640, 643), (2019.172, 648, 648, 650), (2019.182, 655, 655, 658),
    (2019.191, 650, 650, 652), (2019.200, 640, 640, 642), (2019.218, 645, 645, 648),
    (2019.236, 660, 660, 663), (2019.264, 690, 690, 692), (2019.278, 705, 705, 708),
    (2019.296, 730, 730, 732), (2019.305, 740, 740, 745), (2019.324, 735, 735, 738),
    (2019.342, 745, 745, 748), (2019.351, 715, 715, 720), (2019.365, 745, 745, 750),
    (2019.379, 695, 695, 700), (2019.401, 772, 775, 780), (2019.420, 802, 805, 810),
    (2019.434, 822, 825, 830), (2019.443, 688, 688, 690), (2019.470, 812, 815, 820),
    (2019.507, 842, 845, 850), (2019.521, 855, 858, 862), (2019.539, 835, 838, 842),
    (2019.557, 852, 855, 860), (2019.566, 862, 865, 870), (2019.575, 735, 735, 737),
    (2019.589, 812, 815, 820), (2019.607, 842, 845, 850), (2019.626, 860, 862, 868),
    (2019.644, 867, 870, 875), (2019.662, 873, 876, 880), (2019.676, 876, 878, 882),
    (2019.686, 678, 678, 682), (2019.704, 705, 705, 710), (2019.722, 768, 768, 775),
    (2019.740, 712, 712, 720), (2019.754, 675, 675, 682), (2019.773, 650, 650, 660),
    (2019.782, 642, 642, 652), (2019.800, 643, 643, 655), (2019.818, 655, 655, 668),
    (2019.837, 658, 658, 672), (2019.850, 642, 642, 655), (2019.887, 640, 640, 652),
    (2019.919, 638, 638, 650), (2019.956, 636, 636, 647), (2020.006, 634, 634, 645),
    (2020.080, 634, 634, 645), (2020.130, 634, 634, 645), (2020.180, 635, 635, 646),
    (2020.217, 636, 636, 646), (2020.235, 655, 655, 660), (2020.267, 695, 695, 700),
    (2020.304, 745, 745, 750), (2020.336, 778, 780, 785), (2020.354, 752, 755, 760),
    (2020.373, 792, 795, 800), (2020.391, 772, 775, 780), (2020.410, 802, 805, 810),
    (2020.423, 782, 785, 790), (2020.442, 820, 825, 830), (2020.460, 830, 835, 840),
    (2020.478, 845, 850, 855), (2020.511, 850, 855, 862), (2020.548, 855, 860, 868),
    (2020.579, 850, 855, 862), (2020.616, 855, 860, 868), (2020.653, 852, 858, 865),
    (2020.657, 772, 775, 780), (2020.676, 792, 795, 800), (2020.703, 855, 858, 862),
    (2020.721, 870, 872, 875), (2020.735, 690, 690, 700), (2020.753, 696, 695, 705),
    (2020.763, 715, 712, 730), (2020.790, 658, 655, 672), (2020.822, 668, 665, 680),
    (2020.896, 670, 668, 683), (2020.946, 667, 665, 680), (2020.978, 646, 645, 655),
    (2021.033, 641, 640, 648), (2021.074, 636, 635, 640),
]
CD_OBS = [
    655, 700, 690, 720, 680, 705, 740, 710, 730, 760,
    745, 720, 755, 735, 750, 700, 690, 705, 680, 660,
    650, 640, 632, 625, 620, 618, 612, 610, 625, 615,
    620, 625, 630, 628, 632, 635, 640, 650, 655, 665,
    672, 680, 690, 700, 710, 720, 735, 745, 750, 740,
    700, 705, 690, 685, 700, 710, 720, 715, 730, 740,
    745, 740, 750, 755, 760, 700, 680, 670, 665, 660,
    655, 650, 648, 645, 650, 645, 648, 650, 645, 648,
    650, 652, 648, 655, 650, 658, 660, 665, 670, 680,
    660, 650, 648, 652, 680, 700, 715, 720, 725, 740,
    770, 790, 815, 895, 700, 840, 860, 850, 760, 730,
    800, 840, 860, 875, 870, 855, 860, 880, 810, 800,
    790, 795, 785, 780, 790, 775, 770, 765, 740, 700,
    690, 680, 650, 645, 640, 645, 648, 652, 660, 650,
    665, 672, 680, 690, 700, 695, 720, 735, 745, 740,
    705, 700, 810, 830, 845, 875, 895, 905, 890, 885,
    875, 870, 860, 850, 865, 870, 875, 880, 790, 805,
    800, 780, 760, 740, 720, 715, 705, 700, 695, 690,
    685, 680, 678, 675, 670, 668, 665, 660, 662, 658,
    660, 655, 658, 660, 655, 650, 660, 670, 690, 710,
    730, 760, 780, 800, 815, 820, 790, 830, 760, 835,
    860, 880, 885, 900, 905, 915, 910, 925, 935, 890,
    885, 900, 895, 760, 745, 700, 710, 705, 700, 690,
    695, 688, 685, 690, 680, 670, 660, 640, 625, 615,
]
CD_OBS_MID = [
    670, 680, 710, 695, 700, 685, 725, 745, 700, 740,
    755, 705, 740, 720, 760, 690, 710, 685, 690, 648,
    640, 648, 622, 632, 610, 625, 605, 615, 618, 625,
    612, 632, 622, 638, 628, 642, 648, 640, 662, 670,
    680, 672, 698, 692, 720, 712, 745, 735, 760, 725,
    690, 715, 680, 698, 690, 722, 708, 725, 720, 752,
    735, 752, 742, 765, 745, 690, 672, 660, 672, 650,
    662, 645, 655, 640, 655, 652, 642, 655, 650, 642,
    655, 645, 655, 648, 658, 650, 668, 658, 678, 672,
    668, 645, 655, 645, 690, 690, 725, 712, 735, 730,
    780, 775, 800, 850, 760, 820, 875, 835, 780, 745,
    815, 830, 870, 862, 880, 845, 870, 865, 800, 790,
    780, 805, 775, 790, 780, 785, 760, 775, 725, 690,
    700, 670, 655, 640, 648, 638, 655, 645, 668, 660,
    672, 665, 690, 682, 710, 690, 728, 742, 735, 700,
    712, 740, 820, 838, 860, 885, 900, 890, 880, 870,
    865, 880, 850, 858, 875, 860, 882, 870, 800, 795,
    790, 770, 765, 730, 728, 708, 712, 692, 700, 682,
    690, 672, 684, 668, 676, 662, 670, 655, 668, 662,
    652, 662, 650, 665, 660, 648, 668, 680, 700, 720,
    745, 770, 790, 810, 800, 830, 810, 845, 780, 850,
    870, 890, 900, 885, 915, 905, 920, 930, 905, 880,
    895, 890, 880, 770, 720, 710, 698, 712, 690, 700,
    688, 698, 680, 694, 675, 668, 650, 632, 628, 620,
]

PANELS = [
    {
        'tag': '(a)', 'name': 'Grosses Bruch', 'model': GB_MODEL,
        'obs': GB_OBS, 'obs_mid': GB_OBS_MID,
        'ylim': (467.6, 667.2), 'yticks': [500, 550, 600, 650],
        'vgrid': [2017.533, 2018.927, 2020.327],
        'stats': [('three', 'KGE=0.86, RMSE=16.1'), ('five', 'KGE=0.73, RMSE=21.8'),
                  ('six', 'KGE=0.75, RMSE=23.3')],
        'stat_x': [0.190, 0.334, 0.473], 'stat_y': 0.851,
        'rect': [0.0616, 0.7941, 0.9347, 0.1539], 'tag_y': 0.981,
    },
    {
        'tag': '(b)', 'name': 'Hohes Holz', 'model': HH_MODEL,
        'obs': HH_OBS, 'obs_mid': HH_OBS_MID,
        'ylim': (414.8, 569.4), 'yticks': [440, 480, 520, 560],
        'vgrid': [2017.436, 2018.871, 2020.302],
        'stats': [('three', 'KGE=0.81, RMSE=19.6'), ('five', 'KGE=0.79, RMSE=23'),
                  ('six', 'KGE=0.78, RMSE=22.9')],
        'stat_x': [0.171, 0.321, 0.462], 'stat_y': 0.926,
        'rect': [0.0616, 0.5618, 0.9347, 0.1535], 'tag_y': 0.748,
    },
    {
        'tag': '(c)', 'name': 'Hordorf', 'model': HD_MODEL,
        'obs': HD_OBS, 'obs_mid': HD_OBS_MID,
        'ylim': (553.0, 725.2), 'yticks': [600, 650, 700],
        'vgrid': [2016.743, 2017.804, 2018.868, 2019.928, 2020.993],
        'stats': [('three', 'KGE=0.87, RMSE=16.94'), ('five', 'KGE=0.87, RMSE=17.7'),
                  ('six', 'KGE=0.87, RMSE=17.8')],
        'stat_x': [0.029, 0.252, 0.464], 'stat_y': 0.846,
        'rect': [0.0616, 0.3289, 0.9347, 0.1538], 'tag_y': 0.516,
    },
    {
        'tag': '(d)', 'name': 'Cunnersdorf', 'model': CD_MODEL,
        'obs': CD_OBS, 'obs_mid': CD_OBS_MID,
        'ylim': (588.5, 950.6), 'yticks': [600, 700, 800, 900],
        'vgrid': [2017, 2018, 2019, 2020, 2021],
        'stats': [('three', 'KGE=0.92, RMSE=32.4'), ('five', 'KGE=0.92, RMSE=31.6'),
                  ('six', 'KGE=0.92, RMSE=31.9')],
        'stat_x': [0.050, 0.257, 0.456], 'stat_y': 0.831,
        'rect': [0.0616, 0.0958, 0.9347, 0.1542], 'tag_y': 0.284,
    },
]

YEARS = [2017, 2018, 2019, 2020, 2021]
XLIM = (2016.2406, 2021.267)
GRID_KW = dict(color='#B5B5B5', linestyle=(0, (3, 3)), linewidth=0.9, zorder=1)


def draw_panel(fig, p, show_x):
    ax = fig.add_axes(p['rect'])
    model = np.array(p['model'], dtype=float)
    t = model[:, 0]
    obs = np.array(p['obs'], dtype=float)
    obs_mid = np.array(p['obs_mid'], dtype=float)
    obs_t = OBS_START + np.arange(len(obs)) * OBS_STEP
    obs_t_mid = obs_t + OBS_STEP / 2

    for y in p['yticks']:
        ax.axhline(y, **GRID_KW)
    for v in p['vgrid']:
        ax.axvline(v, **GRID_KW)

    for tt, vv in ((obs_t, obs), (obs_t_mid, obs_mid)):
        ax.plot(tt, vv, 'o', color=COLORS['obs'], markersize=2.5,
                markeredgewidth=0, zorder=2)
    ax.plot(t, model[:, 1], color=COLORS['five'], lw=1.8, zorder=3)
    ax.plot(t, model[:, 3], color=COLORS['three'], lw=1.8, zorder=4)
    ax.plot(t, model[:, 2], color=COLORS['six'], lw=1.8, zorder=5)

    ax.set_xlim(*XLIM)
    ax.set_ylim(*p['ylim'])
    ax.set_yticks(p['yticks'])
    ax.set_yticklabels([str(v) for v in p['yticks']], fontweight='bold', fontsize=10.5)
    ax.tick_params(axis='y', length=8.5, width=1.5, color='#333333', pad=3.5)
    if show_x:
        ax.set_xticks(YEARS)
        ax.set_xticklabels([str(y) for y in YEARS], fontweight='bold', fontsize=12)
        ax.tick_params(axis='x', length=8.5, width=1.5, color='#333333', pad=3)
    else:
        ax.tick_params(axis='x', bottom=False, labelbottom=False)

    ax.set_ylabel('Neutrons [cph]', fontweight='bold', fontsize=11)
    ax.yaxis.set_label_coords(-0.042, 0.5)
    ax.set_title(p['name'], loc='left', fontweight='bold', fontsize=14, pad=5)

    for (key, txt), sx in zip(p['stats'], p['stat_x']):
        ax.text(sx, p['stat_y'], txt, color=TEXT_COLORS[key], fontsize=10,
                va='center', ha='left', transform=ax.transAxes, zorder=6)

    fig.text(0.0108, p['tag_y'], p['tag'], fontsize=14, fontweight='bold',
             va='center', ha='left')
    return ax


def main():
    fig = plt.figure(figsize=(11.74, 9.6), dpi=100)
    for i, p in enumerate(PANELS):
        draw_panel(fig, p, show_x=(i == len(PANELS) - 1))

    handles = [Line2D([0], [0], color=COLORS[k], lw=2) for k in ['five', 'six', 'three', 'obs']]
    fig.legend(handles, SERIES_LABELS, loc='center', bbox_to_anchor=(0.49, 0.0125),
               ncol=4, frameon=False, handlelength=1.75, columnspacing=0.9,
               handletextpad=1.05, prop={'weight': 'bold', 'size': 11})

    fig.savefig('out.png', dpi=100)
    plt.close(fig)


if __name__ == "__main__":
    main()
